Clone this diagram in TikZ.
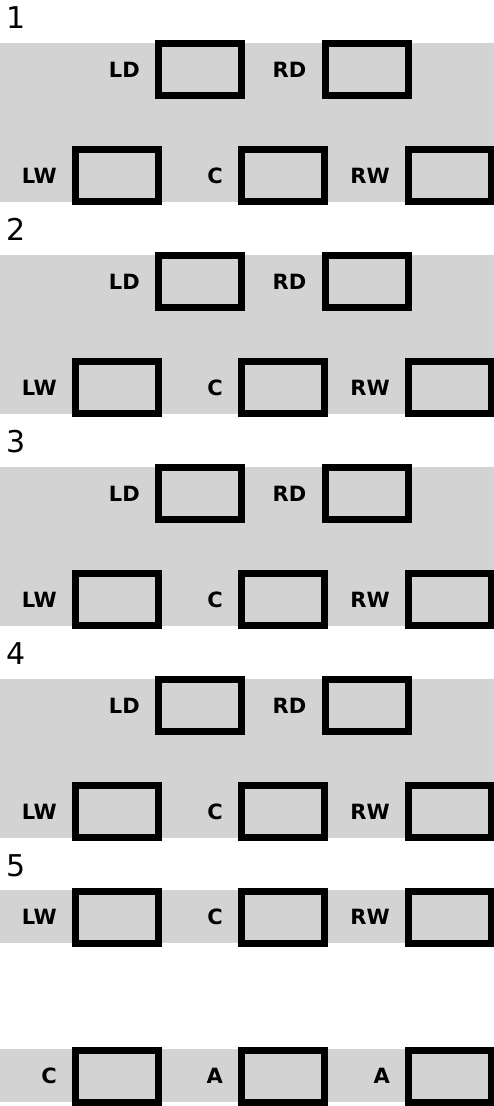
\documentclass[tikz,border=0pt]{standalone}
\usepackage{fontspec}
\setmainfont{DejaVu Sans}
\usetikzlibrary{positioning}
\definecolor{bandgray}{RGB}{211,211,211}

\begin{document}
\begin{tikzpicture}[x=1pt, y=-1pt,
    band/.style={fill=bandgray},
    slot/.style={draw, line width=7pt, minimum width=83pt, minimum height=52pt, inner sep=0pt},
    lbl/.style={inner sep=0pt, font=\bfseries\fontsize{21}{25}\selectfont},
    num/.style={anchor=base west, inner sep=0pt, font=\fontsize{30}{34}\selectfont}
]
    \useasboundingbox (0,0) rectangle (494,1106);

    % grey bands
    \fill[band] (0,43) rectangle (494,202);
    \fill[band] (0,255) rectangle (494,414);
    \fill[band] (0,467) rectangle (494,626);
    \fill[band] (0,679) rectangle (494,838);
    \fill[band] (0,890) rectangle (494,943);
    \fill[band] (0,1049) rectangle (494,1102);

    % group 1
    \node[num] (n1) at (6,28) {1};
    \node[slot] (ld1) at (200,69.5) {};
    \node[slot] (rd1) at (366.5,69.5) {};
    \node[slot] (lw1) at (117,175.5) {};
    \node[slot] (c1) at (283,175.5) {};
    \node[slot] (rw1) at (450,175.5) {};
    \node[lbl, left=15pt of ld1] (ld1l) {LD};
    \node[lbl, left=15pt of rd1] (rd1l) {RD};
    \node[lbl, left=15pt of lw1] (lw1l) {LW};
    \node[lbl, left=15pt of c1] (c1l) {C};
    \node[lbl, left=15pt of rw1] (rw1l) {RW};

    % group 2
    \node[num] (n2) at (6,240) {2};
    \node[slot] (ld2) at (200,281.5) {};
    \node[slot] (rd2) at (366.5,281.5) {};
    \node[slot] (lw2) at (117,387.5) {};
    \node[slot] (c2) at (283,387.5) {};
    \node[slot] (rw2) at (450,387.5) {};
    \node[lbl, left=15pt of ld2] (ld2l) {LD};
    \node[lbl, left=15pt of rd2] (rd2l) {RD};
    \node[lbl, left=15pt of lw2] (lw2l) {LW};
    \node[lbl, left=15pt of c2] (c2l) {C};
    \node[lbl, left=15pt of rw2] (rw2l) {RW};

    % group 3
    \node[num] (n3) at (6,452) {3};
    \node[slot] (ld3) at (200,493.5) {};
    \node[slot] (rd3) at (366.5,493.5) {};
    \node[slot] (lw3) at (117,599.5) {};
    \node[slot] (c3) at (283,599.5) {};
    \node[slot] (rw3) at (450,599.5) {};
    \node[lbl, left=15pt of ld3] (ld3l) {LD};
    \node[lbl, left=15pt of rd3] (rd3l) {RD};
    \node[lbl, left=15pt of lw3] (lw3l) {LW};
    \node[lbl, left=15pt of c3] (c3l) {C};
    \node[lbl, left=15pt of rw3] (rw3l) {RW};

    % group 4
    \node[num] (n4) at (6,664) {4};
    \node[slot] (ld4) at (200,705.5) {};
    \node[slot] (rd4) at (366.5,705.5) {};
    \node[slot] (lw4) at (117,811.5) {};
    \node[slot] (c4) at (283,811.5) {};
    \node[slot] (rw4) at (450,811.5) {};
    \node[lbl, left=15pt of ld4] (ld4l) {LD};
    \node[lbl, left=15pt of rd4] (rd4l) {RD};
    \node[lbl, left=15pt of lw4] (lw4l) {LW};
    \node[lbl, left=15pt of c4] (c4l) {C};
    \node[lbl, left=15pt of rw4] (rw4l) {RW};

    % group 5
    \node[num] (n5) at (6,876) {5};
    \node[slot] (lw5) at (117,917) {};
    \node[slot] (c5) at (283,917) {};
    \node[slot] (rw5) at (450,917) {};
    \node[lbl, left=15pt of lw5] (lw5l) {LW};
    \node[lbl, left=15pt of c5] (c5l) {C};
    \node[lbl, left=15pt of rw5] (rw5l) {RW};
    \node[slot] (c6) at (117,1076) {};
    \node[slot] (a6) at (283,1076) {};
    \node[slot] (b6) at (450,1076) {};
    \node[lbl, left=15pt of c6] (c6l) {C};
    \node[lbl, left=15pt of a6] (a6l) {A};
    \node[lbl, left=15pt of b6] (b6l) {A};
\end{tikzpicture}
\end{document}
